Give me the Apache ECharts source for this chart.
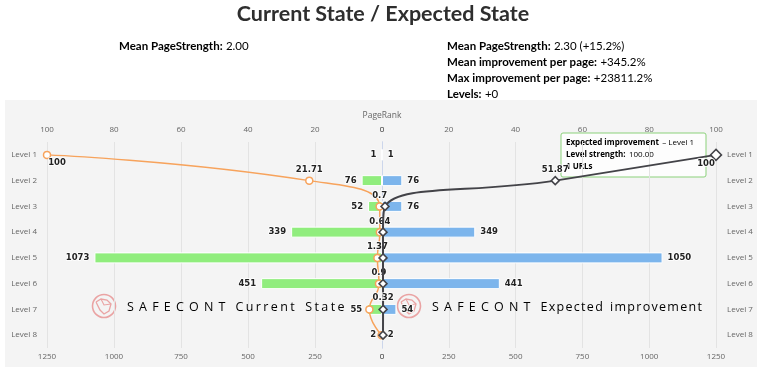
<!DOCTYPE html>
<html><head><meta charset="utf-8">
<script src="https://cdn.jsdelivr.net/npm/echarts@6/dist/echarts.min.js"></script>
<style>html,body{margin:0;padding:0;background:#fff}#c{width:768px;height:367px}</style>
</head><body><div id="c"></div>
<script>
// ---- data ----
const levels = ['Level 1','Level 2','Level 3','Level 4','Level 5','Level 6','Level 7','Level 8'];
const currentUrls = [1, 76, 52, 339, 1073, 451, 55, 2];
const expectedUrls = [1, 76, 76, 349, 1050, 441, 54, 2];
const currentStrength = [100, 21.71, 0.7, 0.64, 1.37, 0.9, 3.77, 0.12];
const expectedStrength = [100, 51.87, 0.9, 0.3, 0.3, 0.3, 0.32, 0.3];
const urlAxisMax = 1250, urlAxisStep = 250;
const rankAxisMax = 100, rankAxisStep = 20;
const chartTitle = 'Current State / Expected State';
const currentMean = '2.00';
const expectedMean = '2.30 (+15.2%)';
const meanImprovement = '+345.2%';
const maxImprovement = '+23811.2%';
const levelsChange = '+0';

// ---- chart ----
const chart = echarts.init(document.getElementById('c'), null, {renderer: 'canvas'});
const F = '"Open Sans", sans-serif';
const LBL = {fontFamily: 'DejaVu Sans', fontWeight: 'bold', fontSize: 8.5, color: '#222', textBorderColor: '#fff', textBorderWidth: 1.5};
const hiddenCur = [6, 7];            // labels suppressed by overlap
const hiddenExp = [2, 3, 4, 5, 7];

function lineData(vals, hidden, firstOffset, big) {
  return vals.map((v, i) => {
    const d = {value: v};
    if (hidden.indexOf(i) >= 0) d.label = {show: false};
    if (i === 0) d.label = {show: true, position: 'inside', offset: firstOffset};
    if (i === 0 && big) d.symbolSize = 11;
    return d;
  });
}

const plain = v => String(v);
const axisLbl = {color: '#666', fontSize: 8, fontFamily: F, formatter: plain};
const grids = [
  {left: 47, right: 386, top: 142, bottom: 19},
  {left: 382, right: 52, top: 142, bottom: 19}
];
const xAxes = [
  {gridIndex: 0, type: 'value', min: 0, max: urlAxisMax, interval: urlAxisStep, inverse: true, position: 'bottom',
   axisLine: {show: false}, axisTick: {show: false}, axisLabel: Object.assign({margin: 5}, axisLbl),
   splitLine: {show: true, lineStyle: {color: '#e3e3e3', width: 1}}},
  {gridIndex: 0, type: 'value', min: 0, max: rankAxisMax, interval: rankAxisStep, inverse: true, position: 'top',
   axisLine: {show: false}, axisTick: {show: false}, axisLabel: Object.assign({margin: 8}, axisLbl),
   splitLine: {show: false}},
  {gridIndex: 1, type: 'value', min: 0, max: urlAxisMax, interval: urlAxisStep, position: 'bottom',
   axisLine: {show: false}, axisTick: {show: false}, axisLabel: Object.assign({margin: 5}, axisLbl),
   splitLine: {show: true, lineStyle: {color: '#e3e3e3', width: 1}}},
  {gridIndex: 1, type: 'value', min: 0, max: rankAxisMax, interval: rankAxisStep, position: 'top',
   axisLine: {show: false}, axisTick: {show: false}, axisLabel: Object.assign({margin: 8}, axisLbl),
   splitLine: {show: false}}
];
const catLbl = {color: '#666', fontSize: 8, fontFamily: F};
const yAxes = [
  {gridIndex: 0, type: 'category', data: levels, inverse: true, position: 'left',
   axisLine: {lineStyle: {color: '#ccd6eb'}}, axisTick: {length: 5, lineStyle: {color: '#ccd6eb'}},
   axisLabel: Object.assign({margin: 10}, catLbl)},
  {gridIndex: 1, type: 'category', data: levels, inverse: true, position: 'right',
   axisLine: {lineStyle: {color: '#ccd6eb'}}, axisTick: {length: 5, lineStyle: {color: '#ccd6eb'}},
   axisLabel: Object.assign({margin: 11}, catLbl)}
];

function logo(cx, cy) {
  return {type: 'group', x: cx, y: cy, z: 1, children: [
    {type: 'circle', shape: {cx: 0, cy: 0, r: 11.5}, style: {fill: 'none', stroke: '#eaa3a3', lineWidth: 1.6}},
    {type: 'polyline', shape: {points: [[-8,-4],[-3,-7],[3,-6],[7,-2],[5,5],[0,8],[-4,4],[-8,-4]]}, style: {fill: 'none', stroke: '#eaa3a3', lineWidth: 1.3}},
    {type: 'polyline', shape: {points: [[-3,-7],[0,-1],[7,-2]]}, style: {fill: 'none', stroke: '#eaa3a3', lineWidth: 1.1}}
  ]};
}
// letter-spaced text built from rich tokens
function spaced(str, styleName, gapName) {
  return str.split('').map(ch => (ch === ' ' ? '{' + gapName + '| }{' + styleName + '| }' : '{' + styleName + '|' + ch + '}')).join('{' + gapName + '| }');
}
function watermark(x, y, word, wordGap) {
  const brand = spaced('SAFECONT', 'g', 'bg').replace('{g|A}', '{r|A}');
  return {type: 'text', x: x, y: y, z: 1, style: {
    text: brand + '{wg| }' + spaced(word, 'l', 'lg'),
    verticalAlign: 'middle',
    rich: {
      g: {fontFamily: F, fontSize: 12.5, color: '#9d9d9d'},
      r: {fontFamily: F, fontSize: 12.5, color: '#e58585'},
      bg: {fontSize: 1, width: 5.2},
      wg: {fontSize: 1, width: 10},
      lg: {fontSize: 1, width: wordGap},
      l: {fontFamily: F, fontSize: 12.5, color: '#d0d0d0'}
    }}};
}

const tipW = 145, tipH = 44;
const option = {
  animation: false,
  grid: grids,
  xAxis: xAxes,
  yAxis: yAxes,
  series: [
    {name: 'Current State', type: 'bar', xAxisIndex: 0, yAxisIndex: 0, data: currentUrls, barWidth: 11,
     itemStyle: {color: '#90ed7d', borderColor: '#fff', borderWidth: 1},
     label: Object.assign({show: true, position: 'left', distance: 5}, LBL), z: 2},
    {name: 'Expected improvement', type: 'bar', xAxisIndex: 2, yAxisIndex: 1, data: expectedUrls, barWidth: 11,
     itemStyle: {color: '#7cb5ec', borderColor: '#fff', borderWidth: 1},
     label: Object.assign({show: true, position: 'right', distance: 5}, LBL), z: 2},
    {name: 'Current strength', type: 'line', xAxisIndex: 1, yAxisIndex: 0, smooth: 0.5,
     data: lineData(currentStrength, hiddenCur, [10, 8], false),
     symbol: 'circle', symbolSize: 7, lineStyle: {color: '#f7a35c', width: 1.5},
     itemStyle: {color: '#fff', borderColor: '#f7a35c', borderWidth: 1.5},
     label: Object.assign({show: true, position: 'top', distance: 2}, LBL), z: 4},
    {name: 'Expected strength', type: 'line', xAxisIndex: 3, yAxisIndex: 1, smooth: 0.5,
     data: lineData(expectedStrength, hiddenExp, [-10, 9], true),
     symbol: 'diamond', symbolSize: 8, lineStyle: {color: '#434348', width: 2},
     itemStyle: {color: '#fff', borderColor: '#434348', borderWidth: 1.5},
     label: Object.assign({show: true, position: 'top', distance: 2}, LBL), z: 5}
  ],
  graphic: [
    {type: 'rect', shape: {x: 5, y: 100, width: 752, height: 267}, style: {fill: '#f4f4f4'}, z: -10, silent: true},
    {type: 'text', x: 383, y: 14, style: {text: chartTitle, fontFamily: 'Lato', fontSize: 21.5, fontWeight: 'bold', fill: '#2e2e2e', align: 'center', verticalAlign: 'middle'}},
    {type: 'text', x: 119, y: 46, style: {text: '{b|Mean PageStrength:} {n|' + currentMean + '}', verticalAlign: 'middle',
      rich: {b: {fontFamily: 'Lato', fontSize: 11.5, color: '#222', fontWeight: 'bold'}, n: {fontFamily: 'Lato', fontSize: 11.5, color: '#808080'}}}},
    {type: 'text', x: 447, y: 38, style: {text:
      '{b|Mean PageStrength:} {n|' + expectedMean + '}\n' +
      '{b|Mean improvement per page:} {n|' + meanImprovement + '}\n' +
      '{b|Max improvement per page:} {n|' + maxImprovement + '}\n' +
      '{b|Levels:} {n|' + levelsChange + '}', verticalAlign: 'top',
      rich: {b: {fontFamily: 'Lato', fontSize: 11.5, color: '#222', fontWeight: 'bold', lineHeight: 16}, n: {fontFamily: 'Lato', fontSize: 11.5, color: '#808080', lineHeight: 16}}}},
    {type: 'text', x: 382, y: 116, style: {text: 'PageRank', fontFamily: F, fontSize: 8.5, fill: '#666', align: 'center', verticalAlign: 'middle'}},
    logo(104, 306), watermark(127, 307, 'Current State', 2.4),
    logo(409, 306), watermark(432, 307, 'Expected improvement', 1.3),
    {type: 'group', x: 561, y: 133, z: 100, children: [
      {type: 'rect', shape: {x: 0, y: 0, width: tipW, height: tipH, r: 2}, style: {fill: 'rgba(255,255,255,0.82)', stroke: '#8bd17b', lineWidth: 1}},
      {type: 'text', x: 5, y: 4, style: {text:
        '{b|Expected improvement} {n|\u2013 ' + levels[0] + '}\n{b|Level strength:} {n|' + expectedStrength[0].toFixed(2) + '}\n{b|' + expectedUrls[0] + ' URLs}',
        rich: {b: {fontFamily: F, fontSize: 8, fontWeight: 'bold', color: '#333', lineHeight: 12}, n: {fontFamily: F, fontSize: 8, color: '#555', lineHeight: 12}}}}
    ]}
  ]
};
chart.setOption(option);
</script></body></html>
